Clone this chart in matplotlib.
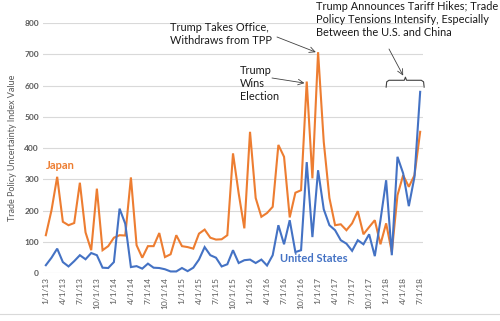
import matplotlib
matplotlib.use("Agg")
import matplotlib.pyplot as plt
from matplotlib.lines import Line2D

# monthly index values, Jan 2013 - Jul 2018
japan = [121, 201, 308, 164, 153, 160, 289, 130, 73, 270, 73, 86,
         113, 121, 120, 306, 89, 49, 86, 86, 128, 51, 60, 121,
         86, 83, 78, 126, 139, 113, 107, 108, 121, 383, 255, 143,
         452, 240, 180, 192, 212, 410, 372, 178, 257, 265, 613, 303,
         707, 420, 240, 153, 156, 137, 159, 198, 124, 147, 169, 92,
         159, 67, 249, 313, 276, 313, 452]
us = [25, 49, 78, 35, 21, 38, 57, 44, 64, 57, 17, 16,
      35, 206, 158, 19, 22, 14, 30, 17, 16, 12, 5, 5,
      16, 6, 17, 43, 83, 57, 49, 21, 28, 73, 32, 41,
      43, 32, 43, 24, 57, 153, 92, 169, 67, 73, 355, 115,
      329, 204, 153, 137, 105, 94, 71, 105, 92, 124, 54, 169,
      297, 57, 372, 319, 214, 308, 580]

months = []
for yr in range(13, 19):
    for m in range(1, 13):
        months.append(f"{m}/1/{yr}")
months = months[:len(japan)]
tick_idx = list(range(0, len(months), 3))

orange = '#ED7D31'
blue = '#4472C4'
grey = '#595959'
font = ['Lato', 'DejaVu Sans']
plt.rcParams['font.family'] = font


def main():
    fig = plt.figure(figsize=(5, 3.21), dpi=100)
    ax = fig.add_axes([0.086, 0.1495, 0.76, 0.7785])
    x = list(range(len(japan)))

    ax.plot(x, japan, color=orange, lw=1.5, solid_joinstyle='miter')
    ax.plot(x, us, color=blue, lw=1.5, solid_joinstyle='miter')

    ax.set_xlim(-0.5, len(japan) - 0.5)
    ax.set_ylim(0, 800)
    ax.set_yticks(range(0, 801, 100))
    ax.set_xticks(tick_idx)
    ax.set_xticklabels([months[i] for i in tick_idx], rotation=90)
    ax.tick_params(axis='both', length=0, labelsize=6, labelcolor=grey, pad=3)
    for lab in ax.get_yticklabels():
        lab.set_fontweight('bold')
    ax.grid(axis='y', color='#D9D9D9', lw=0.8)
    ax.set_axisbelow(True)
    for s in ax.spines.values():
        s.set_visible(False)

    ax.set_ylabel('Trade Policy Uncertainty Index Value', fontsize=6.5,
                  color=grey, labelpad=5)

    # series labels
    fig.text(46 / 500, 1 - 166 / 321, 'Japan', color=orange, fontsize=8,
             fontweight='bold', va='center')
    fig.text(280 / 500, 1 - 258 / 321, 'United States', color=blue,
             fontsize=8, fontweight='bold', va='center')

    # annotations
    note = dict(fontsize=7.9, va='top', linespacing=1.2, color='#1a1a1a')
    fig.text(170 / 500, 1 - 22 / 321, 'Trump Takes Office,\nWithdraws from TPP', **note)
    fig.text(240 / 500, 1 - 65 / 321, 'Trump\nWins\nElection', **note)
    fig.text(316 / 500, 1 - 1 / 321,
             'Trump Announces Tariff Hikes; Trade\nPolicy Tensions Intensify, Especially\nBetween the U.S. and China',
             **note)

    arrow = dict(arrowstyle='->', color='#404040', lw=0.6, shrinkA=0, shrinkB=0)
    ax.annotate('', xy=(47.6, japan[48]), xytext=(277 / 500, 1 - 37 / 321),
                textcoords='figure fraction', arrowprops=arrow)
    ax.annotate('', xy=(45.6, japan[46] - 5), xytext=(272 / 500, 1 - 78 / 321),
                textcoords='figure fraction', arrowprops=arrow)
    ax.annotate('', xy=(63.0, 632), xytext=(389 / 500, 1 - 49 / 321),
                textcoords='figure fraction', arrowprops=arrow)

    # bracket over the 2018 period
    bx = [60.0, 60.1, 60.5, 63.2, 63.4, 63.6, 66.2, 66.6, 66.7]
    by = [595, 612, 617, 617, 627, 617, 617, 612, 595]
    ax.plot(bx, by, color='#404040', lw=0.8, clip_on=False)

    fig.add_artist(Line2D([0, 1], [1 - 314 / 321, 1 - 314 / 321],
                          color='#D9D9D9', lw=0.8, transform=fig.transFigure))

    fig.savefig('out.png', dpi=100)


if __name__ == '__main__':
    main()
